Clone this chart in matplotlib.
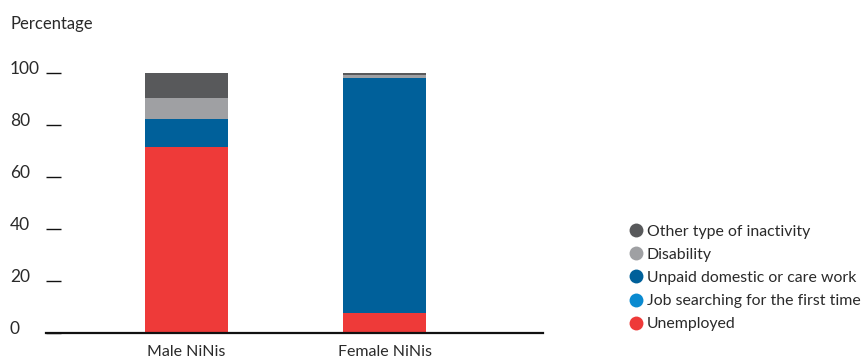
import matplotlib
matplotlib.use("Agg")
import matplotlib.pyplot as plt
from matplotlib.lines import Line2D
from matplotlib.transforms import ScaledTranslation

plt.rcParams['font.family'] = ['Lato', 'DejaVu Sans']

groups = ['Male NiNis', 'Female NiNis']
categories = ['Unemployed', 'Job searching for the first time',
              'Unpaid domestic or care work', 'Disability', 'Other type of inactivity']
unemployed = [71.5, 7.8]
job_searching = [0.0, 0.0]
unpaid_work = [10.8, 90.3]
disability = [8.2, 1.0]
other_inactivity = [9.5, 0.9]
series = [unemployed, job_searching, unpaid_work, disability, other_inactivity]
colors = ['#ee3a39', '#0a8ad0', '#00609a', '#9fa0a3', '#58595b']
yticks = [0, 20, 40, 60, 80, 100]

text_color = '#2a2a2a'

fig = plt.figure(figsize=(8.66, 3.61), dpi=100)
ax = fig.add_axes([46 / 866, 28 / 361, 497 / 866, 260 / 361])

x = list(range(len(groups)))
bottom = [0.0] * len(groups)
for vals, col in zip(series, colors):
    ax.bar(x, vals, width=0.42, bottom=bottom, color=col, linewidth=0)
    bottom = [b + v for b, v in zip(bottom, vals)]

ax.set_xlim(-0.71, 1.80)
ax.set_ylim(0, 100)

for s in ['top', 'right', 'left']:
    ax.spines[s].set_visible(False)
ax.spines['bottom'].set_linewidth(1.6)
ax.spines['bottom'].set_color('#111111')

ax.set_xticks(x)
ax.set_xticklabels(groups, fontsize=11.5, color=text_color)
ax.tick_params(axis='x', length=0, pad=9)

ax.set_yticks(yticks)
ax.set_yticklabels([str(t) for t in yticks], fontsize=12.5, color=text_color)
ax.tick_params(axis='y', direction='in', length=11, width=1.0, color='#111111', pad=26)
for lab in ax.get_yticklabels():
    lab.set_horizontalalignment('left')
    lab.set_transform(lab.get_transform() + ScaledTranslation(0, 4 / 72, fig.dpi_scale_trans))

fig.text(10 / 866, 1 - 24 / 361, 'Percentage', fontsize=12, color=text_color,
         ha='left', va='center')

handles = [Line2D([], [], marker='o', linestyle='', markersize=10, color=c,
                  markeredgewidth=0) for c in colors[::-1]]
fig.legend(handles, categories[::-1], loc='center left',
           bbox_to_anchor=(620 / 866, 1 - 278 / 361), frameon=False,
           fontsize=11.4, handletextpad=0.1, labelspacing=0.57,
           handlelength=1.2, borderaxespad=0, labelcolor=text_color)

fig.savefig('out.png', dpi=100)
